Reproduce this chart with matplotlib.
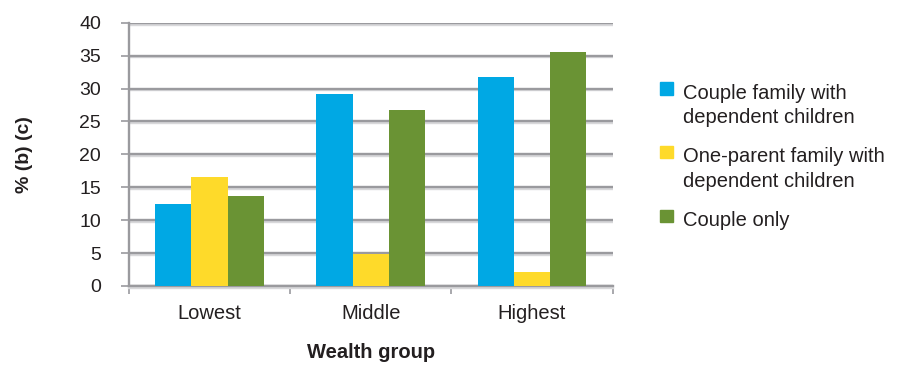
import matplotlib
matplotlib.use("Agg")
import matplotlib.pyplot as plt
import matplotlib.patheffects as pe
from matplotlib.patches import Rectangle
import numpy as np

plt.rcParams['font.family'] = ['Liberation Sans', 'DejaVu Sans']

groups = ['Lowest', 'Middle', 'Highest']
series = ['Couple family with\ndependent children',
          'One-parent family with\ndependent children',
          'Couple only']
couple_kids = [12.5, 29.2, 31.8]
one_parent = [16.6, 4.9, 2.2]
couple_only = [13.7, 26.7, 35.6]
colors = ['#00A8E4', '#FEDA2A', '#6A9334']

W, H = 898, 365
fig = plt.figure(figsize=(W / 100, H / 100), dpi=100)
ax = fig.add_axes([128.7 / W, 1 - 286 / H, (612.7 - 128.7) / W, (286 - 22.7) / H])

grid_col = '#9a9a9e'
x = np.arange(len(groups))
width = 0.225
for i, (vals, col) in enumerate(zip([couple_kids, one_parent, couple_only], colors)):
    ax.bar(x + (i - 1) * width, vals, width, color=col, zorder=3)

ax.set_xlim(-0.5, 2.5)
ax.set_ylim(0, 40)
ax.set_yticks(np.arange(0, 41, 5))
ax.set_xticks(x)
ax.set_xticklabels(groups, fontsize=14.5)
ax.set_xticks([-0.5, 0.5, 1.5, 2.5], minor=True)

ax.tick_params(axis='y', direction='out', length=6, width=1.2, color=grid_col,
               labelsize=14, pad=14, labelcolor='#231f20')
ax.tick_params(axis='x', which='major', length=0, pad=13, labelcolor='#231f20')
ax.tick_params(axis='x', which='minor', direction='out', length=6, width=1.2, color=grid_col)

for s in ['top', 'right']:
    ax.spines[s].set_visible(False)
for s in ['left', 'bottom']:
    ax.spines[s].set_color(grid_col)
    ax.spines[s].set_linewidth(1.7)

shadow = [pe.SimpleLineShadow(offset=(0, -1.3), shadow_color='#d8d8da', alpha=1), pe.Normal()]
ax.yaxis.grid(True, color=grid_col, linewidth=1.7, zorder=0)
for gl in ax.yaxis.get_gridlines():
    gl.set_path_effects(shadow)
ax.spines['bottom'].set_path_effects(shadow)
ax.set_axisbelow(True)

ax.set_xlabel('Wealth group', fontsize=14.5, fontweight='bold', labelpad=14.5, color='#231f20')
ax.set_ylabel('% (b) (c)', fontsize=14, fontweight='bold', labelpad=33, color='#231f20')

# legend drawn by hand so each marker sits on the first line of its label
line_h = 25
baselines = [98.3, 161.7, 225.7]
for lab, col, yb in zip(series, colors, baselines):
    fig.patches.append(Rectangle((660 / W, 1 - (yb - 3.5) / H), 12.7 / W, 12.7 / H,
                                 transform=fig.transFigure, color=col, figure=fig))
    nlines = lab.count('\n')
    fig.text(683 / W, 1 - (yb + line_h * nlines) / H, lab, fontsize=14.5,
             va='baseline', ha='left', linespacing=1.38, color='#231f20')

fig.savefig('out.png', dpi=100)
